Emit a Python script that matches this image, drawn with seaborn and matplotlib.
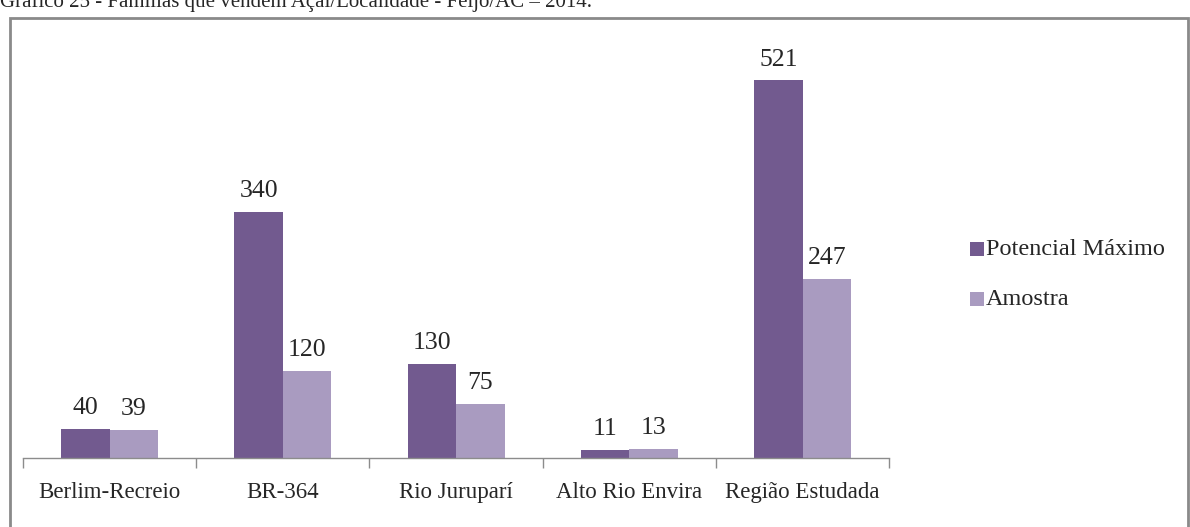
import pandas as pd
import matplotlib.pyplot as plt
import seaborn as sns
from matplotlib.patches import Rectangle

# Data
localidades = ['Berlim-Recreio', 'BR-364', 'Rio Juruparí', 'Alto Rio Envira', 'Região Estudada']
potencial_maximo = [40, 340, 130, 11, 521]
amostra = [39, 120, 75, 13, 247]
series = ['Potencial Máximo', 'Amostra']

df = pd.DataFrame({
    'Localidade': localidades * 2,
    'Serie': [series[0]] * len(localidades) + [series[1]] * len(localidades),
    'Familias': potencial_maximo + amostra,
})

sns.set_theme(style="white")
plt.rcParams['font.family'] = ['Liberation Serif', 'DejaVu Serif']

fig = plt.figure(figsize=(11.9, 5.27), dpi=100)
ax = fig.add_axes([0.0193, 0.131, 0.728, 0.825])

palette = ['#725A8F', '#A99BC0']
sns.barplot(data=df, x='Localidade', y='Familias', hue='Serie', palette=palette,
            width=0.56, gap=0, saturation=1, linewidth=0, ax=ax, legend=False)

for container in ax.containers:
    ax.bar_label(container, padding=7, fontsize=18.5)

ax.set_ylim(0, 600)
ax.set_xlim(-0.5, 4.5)
ax.set_xlabel('')
ax.set_ylabel('')
ax.set_yticks([])
for s in ['top', 'right', 'left']:
    ax.spines[s].set_visible(False)
ax.spines['bottom'].set_color('#8c8c8c')
ax.spines['bottom'].set_linewidth(1)
ax.set_xticks([-0.5, 0.5, 1.5, 2.5, 3.5, 4.5], minor=True)
ax.tick_params(axis='x', which='minor', length=7, color='#8c8c8c', width=1, direction='out', bottom=True)
ax.tick_params(axis='x', which='major', length=0, labelsize=16.5, pad=17)

# Legend
for i, (name, col) in enumerate(zip(series, palette)):
    y = 0.5275 - i * 0.095
    fig.patches.append(Rectangle((0.815, y - 0.0133), 0.0118, 0.0266, transform=fig.transFigure,
                                 facecolor=col, edgecolor='none'))
    fig.text(0.8286, y, name, fontsize=17.5, va='center', ha='left')

# Outer frame of the chart area
fig.patches.append(Rectangle((0.0085, -0.01), 0.99, 0.976, transform=fig.transFigure,
                             fill=False, edgecolor='#8a8a8a', linewidth=2))

# Title (cut off at the top, as in the source)
fig.text(0.0, 1 - 7 / 527, 'Gráfico 25 - Famílias que vendem Açaí/Localidade - Feijó/AC – 2014.',
         fontsize=15, va='baseline', ha='left')

fig.savefig('out.png', dpi=100)
